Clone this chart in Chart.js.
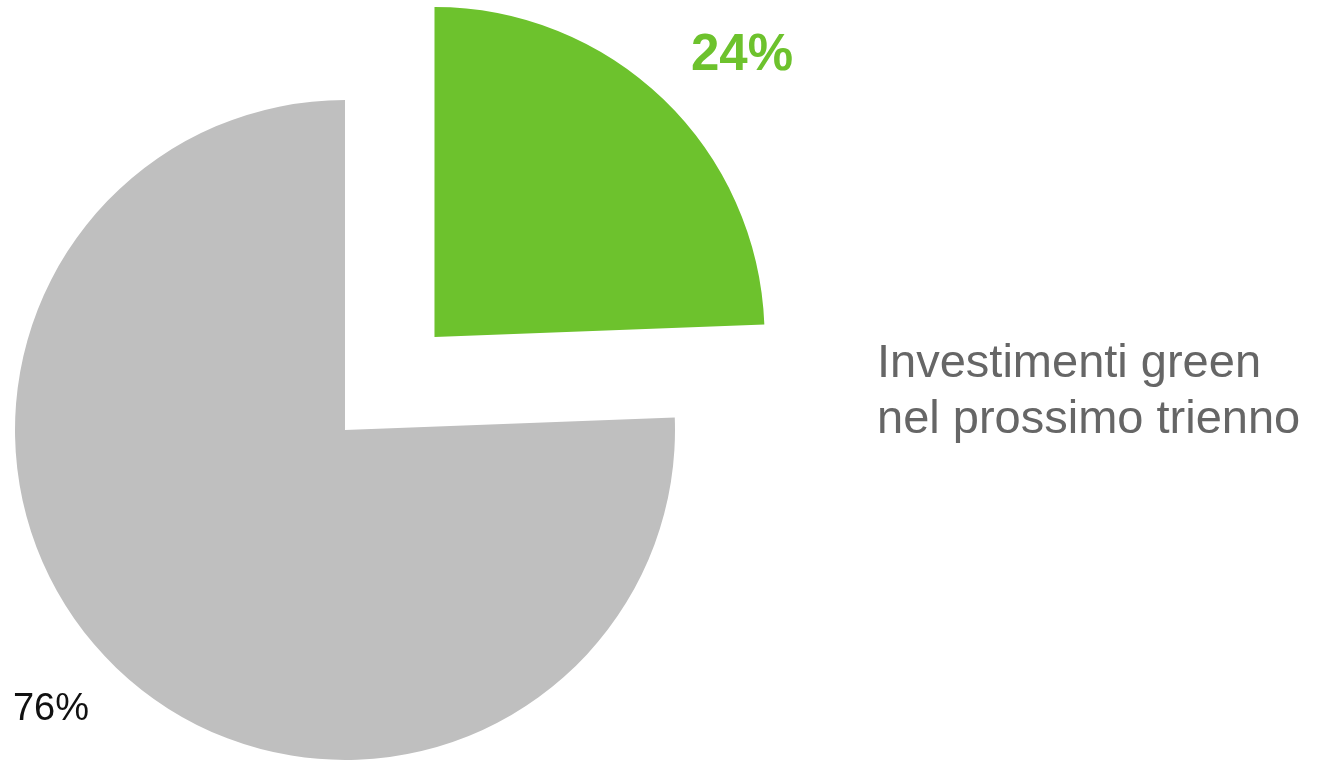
<!DOCTYPE html>
<html>
<head>
<meta charset="utf-8">
<script src="https://cdn.jsdelivr.net/npm/chart.js@4"></script>
<style>
  html, body { margin: 0; padding: 0; background: #ffffff; }
  #wrap { position: relative; width: 1317px; height: 761px; overflow: hidden; }
  #c { position: absolute; left: 0; top: 0; }
  #side {
    position: absolute; left: 877px; top: 333px;
    font-family: "Liberation Sans", Arial, sans-serif;
    font-size: 47px; line-height: 56px; color: #666666; white-space: nowrap;
  }
</style>
</head>
<body>
<div id="wrap">
  <canvas id="c" width="1317" height="761"></canvas>
  <div id="side">Investimenti green<br>nel prossimo trienno</div>
</div>
<script>
// ---- data ----
const categories = ["Investimenti green nel prossimo trienno", "Altro"];
const values = [24.4, 75.6];
const valueLabels = ["24%", "76%"];
const sliceColors = ["#6DC22D", "#BFBFBF"];
const sliceOffsets = [516, 0];

// ---- styles for labels ----
const labelStyles = [
  { color: "#6DC22D", font: "bold 51px 'Liberation Sans', Arial, sans-serif", size: 51, radial: 1.271, rotateDeg: 3.24 },
  { color: "#111111", font: "38px 'Liberation Sans', Arial, sans-serif", size: 38, radial: 1.222, rotateDeg: 2.89 }
];

const pieLabels = {
  id: "pieLabels",
  afterDatasetsDraw(chart) {
    const ctx = chart.ctx;
    const meta = chart.getDatasetMeta(0);
    meta.data.forEach((arc, i) => {
      const p = arc.getProps(["x", "y", "startAngle", "endAngle", "outerRadius"], true);
      const mid = (p.startAngle + p.endAngle) / 2;
      const off = (arc.options.offset || 0) / 4;
      const cx = p.x + Math.cos(mid) * off;
      const cy = p.y + Math.sin(mid) * off;
      const st = labelStyles[i];
      const a = mid + st.rotateDeg * Math.PI / 180;
      const r = p.outerRadius * st.radial;
      const lx = cx + Math.cos(a) * r;
      const ly = cy + Math.sin(a) * r;
      ctx.save();
      ctx.font = st.font;
      ctx.fillStyle = st.color;
      ctx.textAlign = "center";
      ctx.textBaseline = "alphabetic";
      ctx.fillText(valueLabels[i], lx, ly + st.size * 0.358);
      ctx.restore();
    });
  }
};

new Chart(document.getElementById("c"), {
  type: "pie",
  data: {
    labels: categories,
    datasets: [{
      data: values,
      backgroundColor: sliceColors,
      borderWidth: 0,
      offset: sliceOffsets,
      hoverOffset: 0,
      clip: false
    }]
  },
  options: {
    responsive: false,
    devicePixelRatio: 1,
    animation: false,
    radius: 330,
    layout: { padding: { left: 0, right: 627, top: 99, bottom: 0 } },
    plugins: {
      legend: { display: false },
      tooltip: { enabled: false }
    },
    events: []
  },
  plugins: [pieLabels]
});
</script>
</body>
</html>
